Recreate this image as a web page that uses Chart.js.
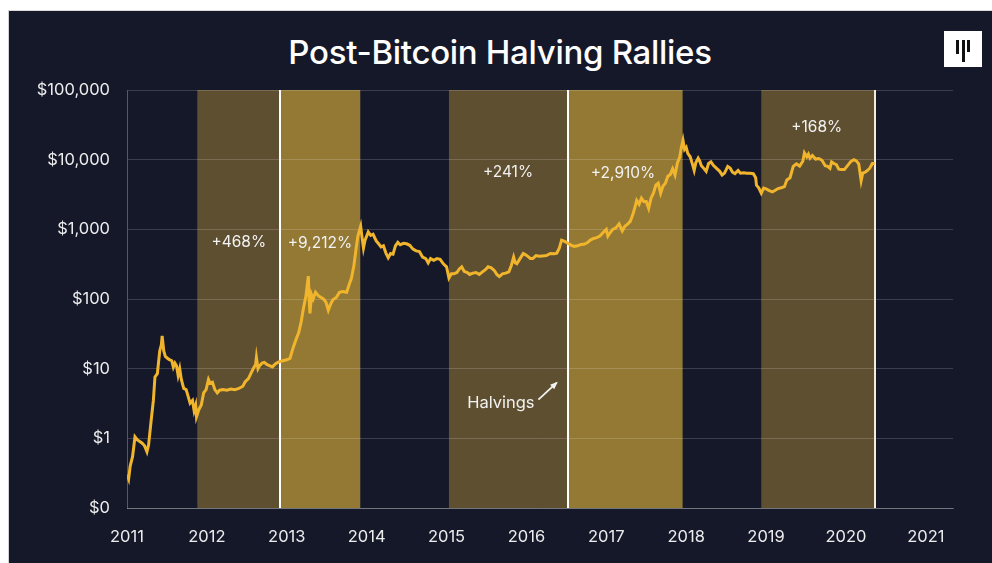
<!DOCTYPE html>
<html>
<head>
<meta charset="utf-8">
<script src="https://cdn.jsdelivr.net/npm/chart.js@4.4.1/dist/chart.umd.min.js"></script>
<style>
  html, body { margin: 0; padding: 0; background: #ffffff; width: 992px; height: 563px; overflow: hidden; }
  #panel { position: absolute; left: 8px; top: 10px; width: 984px; height: 553px; background: #151829; border-left: 1px solid #d2d2d2; border-top: 1px solid #dadada; }
  #title { position: absolute; left: 8px; width: 984px; top: 32px; line-height: 40px; text-align: center; color: #ffffff; font-family: Inter, "Open Sans", sans-serif; font-size: 33px; font-weight: 500; letter-spacing: -0.3px; }
  #logo { position: absolute; left: 944px; top: 31px; width: 38px; height: 36px; background: #ffffff; }
  #logo div { position: absolute; background: #111; width: 3px; }
  #wrap { position: absolute; left: 0; top: 0; width: 992px; height: 563px; }
</style>
</head>
<body>
<div id="panel"></div>
<div id="title">Post-Bitcoin Halving Rallies</div>
<div id="logo">
  <div style="left:12px; top:9px; height:14px;"></div>
  <div style="left:17.5px; top:9px; height:22px;"></div>
  <div style="left:23px; top:9px; height:12px;"></div>
</div>
<div id="wrap"><canvas id="c" width="992" height="563"></canvas></div>
<script>
// ---- Data (decimal years, USD price) ----
const dates = [
  2011.00,2011.02,2011.04,2011.07,2011.10,2011.13,2011.16,2011.19,2011.22,2011.25,2011.27,2011.30,2011.33,2011.35,2011.38,2011.41,2011.43,2011.44,2011.46,2011.48,
  2011.51,2011.53,2011.56,2011.58,2011.60,2011.62,2011.64,2011.66,2011.68,2011.71,2011.74,2011.76,2011.79,2011.82,2011.84,2011.86,2011.87,2011.90,2011.93,2011.96,
  2011.99,2012.02,2012.04,2012.07,2012.10,2012.13,2012.16,2012.20,2012.25,2012.30,2012.35,2012.40,2012.45,2012.48,2012.52,2012.55,2012.58,2012.61,2012.62,2012.64,
  2012.66,2012.69,2012.72,2012.75,2012.79,2012.82,2012.86,2012.90,2012.95,2013.00,2013.04,2013.08,2013.12,2013.15,2013.18,2013.21,2013.24,2013.27,2013.28,2013.29,
  2013.31,2013.33,2013.36,2013.40,2013.43,2013.46,2013.49,2013.52,2013.55,2013.58,2013.62,2013.66,2013.70,2013.75,2013.78,2013.81,2013.84,2013.87,2013.89,2013.925,
  2013.94,2013.96,2013.98,2014.00,2014.02,2014.05,2014.08,2014.12,2014.15,2014.18,2014.21,2014.24,2014.27,2014.30,2014.33,2014.36,2014.39,2014.42,2014.46,2014.50,
  2014.54,2014.58,2014.62,2014.66,2014.70,2014.74,2014.77,2014.80,2014.84,2014.88,2014.92,2014.96,2015.00,2015.03,2015.06,2015.09,2015.13,2015.16,2015.19,2015.22,
  2015.26,2015.29,2015.33,2015.37,2015.41,2015.45,2015.49,2015.52,2015.56,2015.60,2015.63,2015.66,2015.70,2015.74,2015.78,2015.81,2015.84,2015.86,2015.88,2015.92,
  2015.96,2015.99,2016.03,2016.05,2016.08,2016.12,2016.16,2016.20,2016.25,2016.30,2016.35,2016.38,2016.41,2016.44,2016.47,2016.50,2016.53,2016.56,2016.60,2016.64,
  2016.68,2016.72,2016.76,2016.80,2016.84,2016.88,2016.92,2016.96,2017.00,2017.02,2017.05,2017.08,2017.12,2017.16,2017.20,2017.23,2017.27,2017.30,2017.33,2017.36,
  2017.38,2017.41,2017.44,2017.47,2017.50,2017.53,2017.56,2017.59,2017.62,2017.65,2017.68,2017.71,2017.74,2017.77,2017.80,2017.83,2017.86,2017.89,2017.92,2017.94,
  2017.96,2017.98,2018.00,2018.02,2018.05,2018.08,2018.10,2018.12,2018.15,2018.17,2018.19,2018.22,2018.25,2018.28,2018.31,2018.34,2018.38,2018.42,2018.45,2018.48,
  2018.52,2018.55,2018.58,2018.61,2018.65,2018.68,2018.72,2018.76,2018.80,2018.84,2018.87,2018.88,2018.91,2018.94,2018.97,2019.00,2019.04,2019.08,2019.11,2019.15,
  2019.19,2019.23,2019.26,2019.30,2019.34,2019.38,2019.42,2019.46,2019.48,2019.51,2019.53,2019.55,2019.58,2019.62,2019.66,2019.70,2019.74,2019.77,2019.80,2019.82,
  2019.85,2019.88,2019.91,2019.94,2019.98,2020.02,2020.06,2020.10,2020.13,2020.16,2020.19,2020.21,2020.24,2020.27,2020.30,2020.33,2020.36
];
const prices = [
  0.30,0.26,0.40,0.55,1.05,0.95,0.90,0.85,0.78,0.64,0.80,1.7,3.5,7.6,8.5,18,22,29.6,18,15,
  14,13.5,13,10.5,12,11,8,10,7,5.2,5,4.2,3.2,3.5,2.5,3,2.04,2.6,3.0,4.5,
  5.0,7.0,6.2,6.4,5.0,4.5,4.9,5.0,4.9,5.1,5.0,5.2,5.6,6.5,7.2,8.5,10,11.5,14.5,10,
  11,12,12.3,11.5,11,10.6,11.8,12.5,13,13.4,14,20,27,33,47,75,110,213,100,62,
  115,100,125,110,105,100,90,69,85,98,105,125,128,125,160,200,300,550,800,1110,
  800,540,700,800,920,820,850,680,620,560,580,460,390,450,440,580,650,600,630,620,
  590,520,490,480,400,380,330,380,360,380,370,320,290,200,230,230,240,270,290,250,
  240,225,235,240,225,245,265,290,280,255,225,210,230,235,245,300,400,330,320,380,
  450,430,400,380,380,420,410,415,420,450,445,455,530,700,680,650,620,590,570,580,
  605,610,640,700,740,760,800,900,1000,800,900,1000,1050,1200,950,1100,1200,1300,1600,2100,
  2600,2300,2800,2500,2500,2000,2800,3300,4300,4600,3300,4200,4600,5800,6100,7400,6000,9000,11000,15000,
  19000,14000,15000,12300,11000,8500,7000,9000,10500,9500,8200,7500,6800,8800,9300,8300,7500,6800,6000,6400,
  8000,7600,6600,6300,7000,6400,6500,6400,6400,6300,5500,4300,3900,3300,3900,3800,3600,3450,3600,3850,
  3950,4100,5100,5500,8000,8700,8100,9500,12500,11000,12000,10500,11500,10200,10400,9800,8200,8000,7500,9300,
  8800,8500,7300,7200,7200,8200,9400,10000,9600,8700,5000,6400,6600,7000,7600,8800,8800
];

// Shaded rally periods (decimal years) and halving dates
const bandStarts = [2011.88, 2012.92, 2015.03, 2016.52, 2018.94];
const bandEnds   = [2012.92, 2013.92, 2016.52, 2017.955, 2020.36];
const bandKinds  = ['pre', 'post', 'pre', 'post', 'pre'];
const halvings   = [2012.92, 2016.52, 2020.36];

// Annotation texts
const rallyLabels = ['+468%', '+9,212%', '+241%', '+2,910%', '+168%'];
const rallyLabelX = [2012.40, 2013.415, 2015.77, 2017.21, 2019.635];
const rallyLabelY = [655, 633, 6600, 6400, 29200];

// Axis ticks
const yTickValues = [0.1, 1, 10, 100, 1000, 10000, 100000];
const yTickLabels = ['$0', '$1', '$10', '$100', '$1,000', '$10,000', '$100,000'];
const xTickValues = [2011, 2012, 2013, 2014, 2015, 2016, 2017, 2018, 2019, 2020, 2021];

const FONT = 'Inter, "Open Sans", sans-serif';
const bandColors = { pre: '#5e4f30', post: '#947935' };

const overlay = {
  id: 'overlay',
  beforeDraw(chart) {
    const { ctx, chartArea: a, scales: { x } } = chart;
    ctx.save();
    for (let i = 0; i < bandStarts.length; i++) {
      const x0 = x.getPixelForValue(bandStarts[i]);
      const x1 = x.getPixelForValue(bandEnds[i]);
      ctx.fillStyle = bandColors[bandKinds[i]];
      ctx.fillRect(x0, a.top, x1 - x0, a.bottom - a.top);
    }
    ctx.restore();
  },
  beforeDatasetsDraw(chart) {
    const { ctx, chartArea: a, scales: { x } } = chart;
    ctx.save();
    ctx.lineWidth = 2;
    halvings.forEach((h, i) => {
      const px = Math.round(x.getPixelForValue(h));
      ctx.strokeStyle = i === 2 ? '#f4ecd6' : '#ffffff';
      ctx.beginPath();
      ctx.moveTo(px, a.top);
      ctx.lineTo(px, a.bottom);
      ctx.stroke();
    });
    ctx.restore();
  },
  afterDatasetsDraw(chart) {
    const { ctx, scales: { x, y } } = chart;
    ctx.save();
    ctx.fillStyle = '#f2f2f2';
    ctx.font = '15.5px ' + FONT;
    ctx.textAlign = 'center';
    ctx.textBaseline = 'middle';
    rallyLabels.forEach((t, i) => {
      ctx.fillText(t, x.getPixelForValue(rallyLabelX[i]), y.getPixelForValue(rallyLabelY[i]));
    });
    // Halvings note with arrow
    ctx.font = '16.5px ' + FONT;
    const hx = x.getPixelForValue(2015.68), hy = y.getPixelForValue(3.2);
    ctx.fillText('Halvings', hx, hy);
    const ax0 = x.getPixelForValue(2016.15), ay0 = y.getPixelForValue(3.6);
    const ax1 = x.getPixelForValue(2016.38), ay1 = y.getPixelForValue(6.3);
    ctx.strokeStyle = '#f2f2f2';
    ctx.lineWidth = 1.8;
    ctx.beginPath();
    ctx.moveTo(ax0, ay0);
    ctx.lineTo(ax1, ay1);
    ctx.stroke();
    const ang = Math.atan2(ay1 - ay0, ax1 - ax0);
    ctx.beginPath();
    ctx.moveTo(ax1 + 1, ay1 - 1);
    ctx.lineTo(ax1 - 7 * Math.cos(ang - 0.45), ay1 - 7 * Math.sin(ang - 0.45));
    ctx.lineTo(ax1 - 7 * Math.cos(ang + 0.45), ay1 - 7 * Math.sin(ang + 0.45));
    ctx.closePath();
    ctx.fillStyle = '#f2f2f2';
    ctx.fill();
    ctx.restore();
  }
};

new Chart(document.getElementById('c'), {
  type: 'line',
  data: {
    datasets: [{
      data: dates.map((d, i) => ({ x: d, y: prices[i] })),
      borderColor: '#f0b52c',
      borderWidth: 3,
      pointRadius: 0,
      tension: 0,
      fill: false
    }]
  },
  options: {
    responsive: false,
    animation: false,
    events: [],
    layout: { padding: { left: 0, top: 90, right: 39, bottom: 0 } },
    plugins: { legend: { display: false }, tooltip: { enabled: false }, title: { display: false } },
    scales: {
      x: {
        type: 'linear',
        min: 2011,
        max: 2021.34,
        afterBuildTicks: s => { s.ticks = xTickValues.map(v => ({ value: v })); },
        afterFit: s => { s.height = 55; },
        grid: { display: false, drawTicks: false },
        border: { display: true, color: 'rgba(255,255,255,0.28)', width: 1 },
        ticks: {
          color: '#ececec',
          font: { family: FONT, size: 16.5 },
          padding: 19,
          maxRotation: 0,
          autoSkip: false,
          callback: v => String(v)
        }
      },
      y: {
        type: 'logarithmic',
        min: 0.1,
        max: 100000,
        afterBuildTicks: s => { s.ticks = yTickValues.map(v => ({ value: v })); },
        afterFit: s => { s.width = 127; },
        grid: { color: 'rgba(255,255,255,0.17)', lineWidth: 1, drawTicks: false },
        border: { display: true, color: 'rgba(255,255,255,0.28)', width: 1 },
        ticks: {
          color: '#ececec',
          font: { family: FONT, size: 16.5 },
          padding: 17,
          autoSkip: false,
          callback: (v, i) => yTickLabels[i]
        }
      }
    }
  },
  plugins: [overlay]
});
</script>
</body>
</html>
